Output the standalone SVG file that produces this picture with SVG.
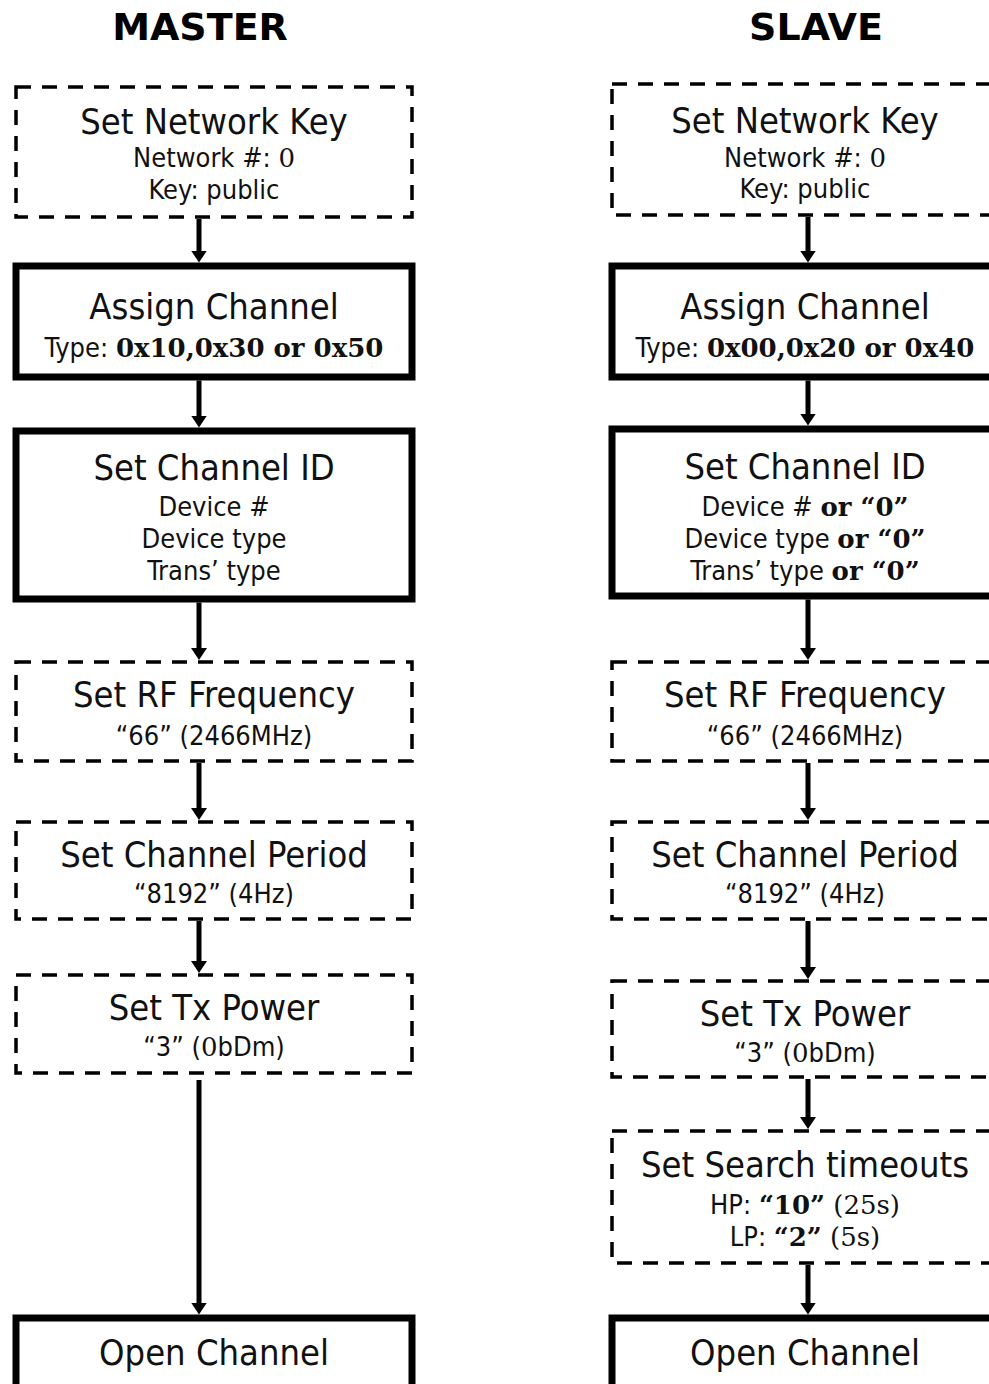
<svg xmlns="http://www.w3.org/2000/svg" width="989" height="1384" viewBox="0 0 989 1384">
  <style>
    .dash { fill: #fff; stroke: #000; stroke-width: 3.5; stroke-dasharray: 15 11; }
    .solid { fill: #fff; stroke: #000; stroke-width: 7; }
    .t { font-family: "DejaVu Sans Condensed", "DejaVu Sans", sans-serif; font-stretch: condensed; font-size: 36px; text-anchor: middle; fill: #111; }
    .s { font-size: 27px; }
    .sb { font-family: "DejaVu Serif", serif; font-stretch: normal; font-weight: bold; font-size: 26px; }
    .sr { font-family: "DejaVu Serif", serif; font-stretch: normal; font-size: 26px; }
    .head { font-family: "DejaVu Sans", sans-serif; font-weight: bold; font-size: 38px; text-anchor: middle; fill: #000; }
    .link { stroke: #000; stroke-width: 5; fill: none; marker-end: url(#ah); }
  </style>
  <defs>
    <marker id="ah" viewBox="0 0 12 16" refX="2" refY="8" markerWidth="12" markerHeight="16" markerUnits="userSpaceOnUse" orient="auto">
      <path d="M0,0 L12,8 L0,16 z" fill="#000"/>
    </marker>
  </defs>
  <rect width="989" height="1384" fill="#fff"/>

  <!-- column headings -->
  <text class="head" x="200" y="40">MASTER</text>
  <text class="head" x="816" y="40">SLAVE</text>

  <!-- connectors -->
  <g id="connectors">
    <line class="link" x1="199" y1="219" x2="199" y2="252.5"/>
    <line class="link" x1="199" y1="380.5" x2="199" y2="417.5"/>
    <line class="link" x1="199" y1="602.5" x2="199" y2="650"/>
    <line class="link" x1="199" y1="763" x2="199" y2="810"/>
    <line class="link" x1="199" y1="921" x2="199" y2="963"/>
    <line class="link" x1="199" y1="1080" x2="199" y2="1304.5"/>

    <line class="link" x1="808" y1="217" x2="808" y2="252.5"/>
    <line class="link" x1="808" y1="380.5" x2="808" y2="415.5"/>
    <line class="link" x1="808" y1="599.5" x2="808" y2="650"/>
    <line class="link" x1="808" y1="763" x2="808" y2="810"/>
    <line class="link" x1="808" y1="921" x2="808" y2="969"/>
    <line class="link" x1="808" y1="1079" x2="808" y2="1119"/>
    <line class="link" x1="808" y1="1265" x2="808" y2="1304.5"/>
  </g>

  <!-- master column -->
  <g id="m-netkey">
    <rect class="dash" x="16" y="87" width="396" height="130"/>
    <text class="t" x="214" y="134">Set Network Key</text>
    <text class="t s" x="214" y="167">Network #: <tspan class="sr">0</tspan></text>
    <text class="t s" x="214" y="199">Key: public</text>
  </g>
  <g id="m-assign">
    <rect class="solid" x="16" y="266" width="396" height="111"/>
    <text class="t" x="214" y="319">Assign Channel</text>
    <text class="t s" x="214" y="357">Type: <tspan class="sb">0x10,0x30 or 0x50</tspan></text>
  </g>
  <g id="m-chanid">
    <rect class="solid" x="16" y="431" width="396" height="168"/>
    <text class="t" x="214" y="480">Set Channel ID</text>
    <text class="t s" x="214" y="516">Device #</text>
    <text class="t s" x="214" y="548">Device type</text>
    <text class="t s" x="214" y="580">Trans’ type</text>
  </g>
  <g id="m-rf">
    <rect class="dash" x="16" y="662" width="396" height="99"/>
    <text class="t" x="214" y="707">Set RF Frequency</text>
    <text class="t s" x="214" y="745">“66” (2466MHz)</text>
  </g>
  <g id="m-period">
    <rect class="dash" x="16" y="822" width="396" height="97"/>
    <text class="t" x="214" y="867">Set Channel Period</text>
    <text class="t s" x="214" y="903">“8192” (4Hz)</text>
  </g>
  <g id="m-txpower">
    <rect class="dash" x="16" y="975" width="396" height="98"/>
    <text class="t" x="214" y="1020">Set Tx Power</text>
    <text class="t s" x="214" y="1056">“3” (<tspan class="sr">0</tspan>bDm)</text>
  </g>
  <g id="m-open">
    <rect class="solid" x="16" y="1318" width="396" height="100"/>
    <text class="t" x="214" y="1365">Open Channel</text>
  </g>

  <!-- slave column -->
  <g id="s-netkey">
    <rect class="dash" x="612" y="84" width="386" height="131"/>
    <text class="t" x="805" y="133">Set Network Key</text>
    <text class="t s" x="805" y="167">Network #: <tspan class="sr">0</tspan></text>
    <text class="t s" x="805" y="198">Key: public</text>
  </g>
  <g id="s-assign">
    <rect class="solid" x="612" y="266" width="386" height="111"/>
    <text class="t" x="805" y="319">Assign Channel</text>
    <text class="t s" x="805" y="357">Type: <tspan class="sb">0x00,0x20 or 0x40</tspan></text>
  </g>
  <g id="s-chanid">
    <rect class="solid" x="612" y="429" width="386" height="167"/>
    <text class="t" x="805" y="479">Set Channel ID</text>
    <text class="t s" x="805" y="516">Device # <tspan class="sb">or “0”</tspan></text>
    <text class="t s" x="805" y="548">Device type <tspan class="sb">or “0”</tspan></text>
    <text class="t s" x="805" y="580">Trans’ type <tspan class="sb">or “0”</tspan></text>
  </g>
  <g id="s-rf">
    <rect class="dash" x="612" y="662" width="386" height="99"/>
    <text class="t" x="805" y="707">Set RF Frequency</text>
    <text class="t s" x="805" y="745">“66” (2466MHz)</text>
  </g>
  <g id="s-period">
    <rect class="dash" x="612" y="822" width="386" height="97"/>
    <text class="t" x="805" y="867">Set Channel Period</text>
    <text class="t s" x="805" y="903">“8192” (4Hz)</text>
  </g>
  <g id="s-txpower">
    <rect class="dash" x="612" y="981" width="386" height="96"/>
    <text class="t" x="805" y="1026">Set Tx Power</text>
    <text class="t s" x="805" y="1062">“3” (<tspan class="sr">0</tspan>bDm)</text>
  </g>
  <g id="s-search">
    <rect class="dash" x="612" y="1131" width="386" height="132"/>
    <text class="t" x="805" y="1177">Set Search timeouts</text>
    <text class="t s" x="805" y="1214">HP: <tspan class="sb">“10”</tspan><tspan class="sr"> (25s)</tspan></text>
    <text class="t s" x="805" y="1246">LP: <tspan class="sb">“2”</tspan><tspan class="sr"> (5s)</tspan></text>
  </g>
  <g id="s-open">
    <rect class="solid" x="612" y="1318" width="386" height="100"/>
    <text class="t" x="805" y="1365">Open Channel</text>
  </g>
</svg>
